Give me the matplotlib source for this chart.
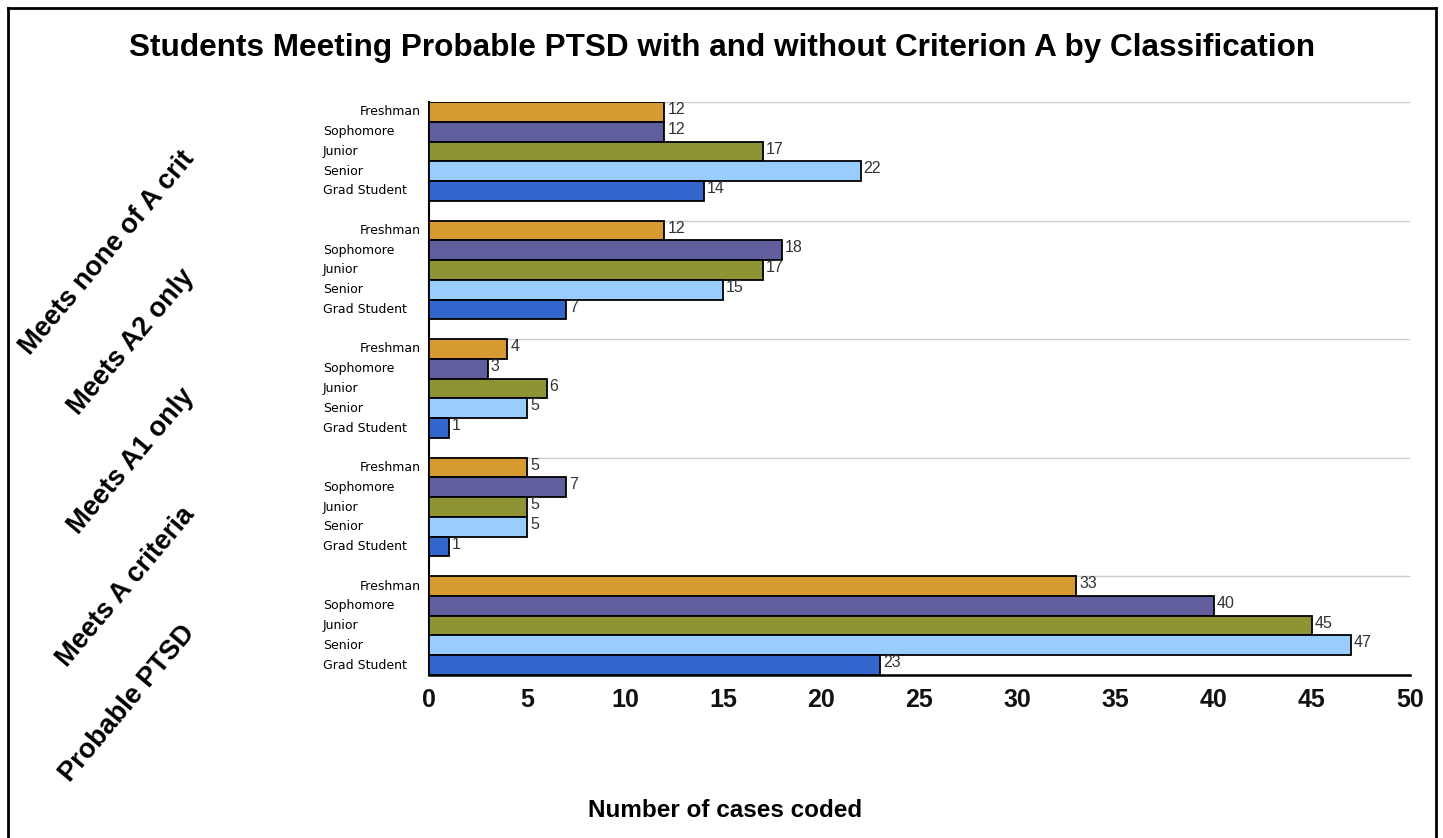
import matplotlib
matplotlib.use('Agg')
import matplotlib.pyplot as plt
import matplotlib.transforms as mtransforms
from matplotlib.lines import Line2D

# groups (top to bottom) and classifications within each group
groups = ['Meets none of A crit', 'Meets A2 only', 'Meets A1 only',
          'Meets A criteria', 'Probable PTSD']
classes = ['Freshman', 'Sophomore', 'Junior', 'Senior', 'Grad Student']

freshman = [12, 12, 4, 5, 33]
sophomore = [12, 18, 3, 7, 40]
junior = [17, 17, 6, 5, 45]
senior = [22, 15, 5, 5, 47]
grad_student = [14, 7, 1, 1, 23]

x_ticks = [0, 5, 10, 15, 20, 25, 30, 35, 40, 45, 50]

series = [freshman, sophomore, junior, senior, grad_student]
colors = ['#D69A30', '#615E9E', '#8E9433', '#99CCFF', '#3366CC']

fig = plt.figure(figsize=(14.43, 8.38), dpi=100)
ax = fig.add_axes([429 / 1443, 1 - 675 / 838, 981 / 1443, 573 / 838])

step = len(classes) + 1
for g in range(len(groups)):
    for i, vals in enumerate(series):
        y = g * step + i + 0.5
        ax.barh(y, vals[g], height=1.0, color=colors[i], edgecolor='black',
                linewidth=1.3, zorder=3)
        ax.text(vals[g] + 0.15, y - 0.12, str(vals[g]), va='center', ha='left',
                fontsize=11.5, color='#333333', family='Liberation Sans', zorder=4)
    # gridline at top of each group
    ax.axhline(g * step, color='#cccccc', linewidth=1.0, zorder=1)

ax.set_xlim(0, 50)
ax.set_ylim(len(groups) * step - 1, 0)
ax.set_xticks(x_ticks)
ax.set_xticklabels([str(t) for t in x_ticks], fontsize=18, fontweight='bold',
                   family='Liberation Sans', color='#111111')
ax.tick_params(axis='x', length=0, pad=9)
ax.set_yticks([])
for s in ['top', 'right']:
    ax.spines[s].set_visible(False)
ax.spines['left'].set_linewidth(1.5)
ax.spines['bottom'].set_linewidth(1.8)

# class labels next to bars
ytr = mtransforms.blended_transform_factory(fig.transFigure, ax.transData)
for g in range(len(groups)):
    for i, c in enumerate(classes):
        y = g * step + i + 0.5
        if i == 0:
            ax.text(421 / 1443, y, c, transform=ytr, ha='right', va='center',
                    fontsize=9, family='DejaVu Sans', color='black')
        else:
            ax.text(323 / 1443, y, c, transform=ytr, ha='left', va='center',
                    fontsize=9, family='DejaVu Sans', color='black')
    # rotated group label, right end near group centre
    ax.text(190 / 1443, g * step + 2.5 + 0.15, groups[g], transform=ytr,
            rotation=50, rotation_mode='anchor', ha='right', va='center',
            fontsize=19.5, fontweight='bold', family='Liberation Sans')

fig.text(722 / 1443, 1 - 48 / 838,
         'Students Meeting Probable PTSD with and without Criterion A by Classification',
         ha='center', va='center', fontsize=22.7, fontweight='bold', family='Liberation Sans')
fig.text(725 / 1443, 1 - 810 / 838, 'Number of cases coded', ha='center', va='center',
         fontsize=17.5, fontweight='bold', family='Liberation Sans')

# outer frame (left, top, right)
fig.add_artist(Line2D([8 / 1443, 8 / 1443], [0, 1 - 8 / 838], transform=fig.transFigure,
                      color='black', linewidth=2))
fig.add_artist(Line2D([8 / 1443, 1436 / 1443], [1 - 8 / 838, 1 - 8 / 838],
                      transform=fig.transFigure, color='black', linewidth=2))
fig.add_artist(Line2D([1436 / 1443, 1436 / 1443], [0, 1 - 8 / 838], transform=fig.transFigure,
                      color='black', linewidth=2))

fig.savefig('out.png', dpi=100)
